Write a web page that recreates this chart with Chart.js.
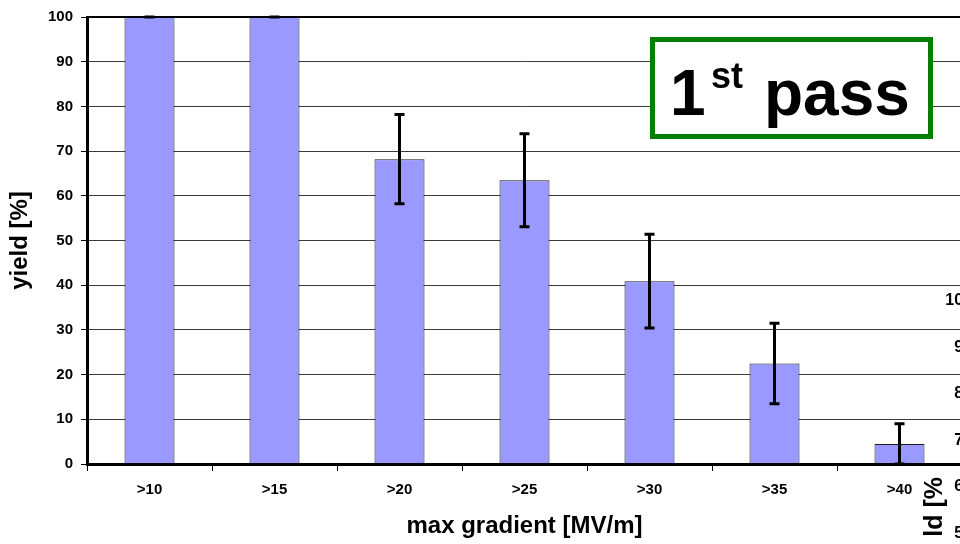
<!DOCTYPE html>
<html lang="en">
<head>
<meta charset="UTF-8">
<title>1st pass yield</title>
<style>
  body { margin: 0; overflow: hidden; background: #fff; }
  #wrap { width: 975px; height: 544px; }
</style>
</head>
<body>
<div id="wrap"><canvas id="myChart"></canvas></div>

<script src="https://cdn.jsdelivr.net/npm/chart.js"></script>
<script>
const categories = ['>10', '>15', '>20', '>25', '>30', '>35', '>40']
const yieldPct = [100, 100, 68.2, 63.5, 40.9, 22.5, 4.5]
const yieldErr = [0, 0, 10, 10.4, 10.5, 9, 4.5]
const yMin = 0, yMax = 100, yStep = 10

// pieces of the next chart that stick out at the right edge
const backTicks = ['100', '90', '80', '70', '60', '50']
const backTitle = 'ld [%'

const FONT = '"Liberation Sans", Arial, sans-serif'
Chart.defaults.font.family = FONT
Chart.defaults.color = '#000'

const errorBars = {
  id: 'errorBars',
  afterDatasetsDraw(chart) {
    const ctx = chart.ctx
    const y = chart.scales.y
    const area = chart.chartArea
    ctx.save()
    // black top line of the plot sits on top of the full bars
    ctx.strokeStyle = '#000'
    ctx.lineWidth = 2
    ctx.beginPath()
    ctx.moveTo(area.left, y.getPixelForValue(yMax))
    ctx.lineTo(area.right, y.getPixelForValue(yMax))
    ctx.stroke()

    ctx.lineWidth = 3
    chart.getDatasetMeta(0).data.forEach((bar, i) => {
      const top = y.getPixelForValue(yieldPct[i] + yieldErr[i])
      const bot = y.getPixelForValue(yieldPct[i] - yieldErr[i])
      ctx.beginPath()
      ctx.moveTo(bar.x, top); ctx.lineTo(bar.x, bot)
      ctx.moveTo(bar.x - 5, top); ctx.lineTo(bar.x + 5, top)
      ctx.moveTo(bar.x - 5, bot); ctx.lineTo(bar.x + 5, bot)
      ctx.stroke()
    })
    ctx.restore()
  }
}

const passBox = {
  id: 'passBox',
  afterDraw(chart) {
    const ctx = chart.ctx
    ctx.save()
    ctx.fillStyle = '#fff'
    ctx.fillRect(650, 37, 283, 102)
    ctx.strokeStyle = '#008000'
    ctx.lineWidth = 5
    ctx.strokeRect(652.5, 39.5, 278, 97)

    ctx.fillStyle = '#000'
    ctx.textAlign = 'left'
    ctx.textBaseline = 'alphabetic'
    ctx.font = 'bold 64px ' + FONT
    ctx.fillText('1', 670, 115)
    ctx.fillText('pass', 764, 115)
    ctx.font = 'bold 36px ' + FONT
    ctx.fillText('st', 711, 88)

    // cut-off labels of the chart behind
    ctx.font = 'bold 16px ' + FONT
    ctx.textAlign = 'right'
    ctx.textBaseline = 'middle'
    backTicks.forEach((t, i) => ctx.fillText(t, 972, 301 + i * 46.5))
    ctx.translate(935, 477)
    ctx.rotate(-Math.PI / 2)
    ctx.font = 'bold 25px ' + FONT
    ctx.fillText(backTitle, 0, 0)
    ctx.restore()
  }
}

new Chart(document.getElementById('myChart'), {
  type: 'bar',
  data: {
    labels: categories,
    datasets: [{
      data: yieldPct,
      backgroundColor: '#9999ff',
      borderColor: '#1a1a1a',
      borderWidth: 1,
      barPercentage: 0.4,
      categoryPercentage: 1
    }]
  },
  options: {
    responsive: true,
    maintainAspectRatio: false,
    animation: false,
    layout: { padding: { top: 17, right: 13, left: 0, bottom: 0 } },
    plugins: { legend: { display: false }, tooltip: { enabled: false } },
    scales: {
      x: {
        grid: { offset: true, drawOnChartArea: false, tickLength: 7, color: '#000', lineWidth: 1 },
        border: { color: '#000', width: 3, z: 1 },
        ticks: { color: '#000', font: { size: 15, weight: 'bold' }, padding: 10, maxRotation: 0 },
        title: {
          display: true, text: 'max gradient [MV/m]', color: '#000',
          font: { size: 24, weight: 'bold' }, padding: { top: 0, bottom: 3 }
        },
        afterFit: s => { s.height = 80 }
      },
      y: {
        min: yMin,
        max: yMax,
        grid: { color: '#3c3c3c', tickColor: '#000', tickLength: 6, lineWidth: 1 },
        border: { color: '#000', width: 3 },
        ticks: { stepSize: yStep, color: '#000', font: { size: 15, weight: 'bold' }, padding: 8 },
        title: {
          display: true, text: 'yield [%]', color: '#000',
          font: { size: 24, weight: 'bold' }, padding: { top: 6, bottom: 0 }
        },
        afterFit: s => { s.width = 87 }
      }
    }
  },
  plugins: [errorBars, passBox]
})
</script>
</body>
</html>
